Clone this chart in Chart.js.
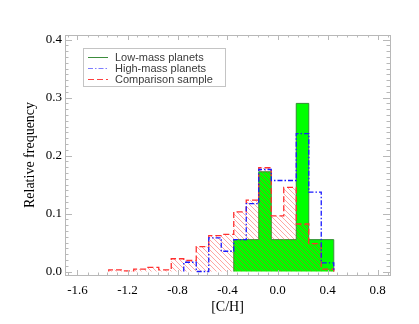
<!DOCTYPE html>
<html>
<head>
<meta charset="utf-8">
<script src="https://cdn.jsdelivr.net/npm/chart.js@4.4.1/dist/chart.umd.min.js"></script>
<style>
  html,body{margin:0;padding:0;background:#fff}
  #wrap{width:419px;height:324px}
</style>
</head>
<body>
<div id="wrap"><canvas id="c" width="419" height="324"></canvas></div>
<script>
// histogram bins ([C/H], width 0.1)
const binCenters = [-1.4,-1.3,-1.2,-1.1,-1.0,-0.9,-0.8,-0.7,-0.6,-0.5,-0.4,-0.3,-0.2,-0.1,0.0,0.1,0.2,0.3,0.4];
const binWidth = 0.1;
const lowMass    = [0,0,0,0,0,0,0,0,0,0,0,0.055,0.055,0.172,0.055,0.055,0.290,0.055,0.055];
const highMass   = [0,0,0,0,0,0,0,0.016,0,0.058,0.035,0.055,0.117,0.176,0.157,0.157,0.238,0.137,0.015];
const comparison = [0,0.003,0.001,0.004,0.007,0.003,0.022,0.019,0.043,0.062,0.064,0.103,0.123,0.179,0.096,0.145,0.082,0.048,0.004];
const seriesNames = ['Low-mass planets','High-mass planets','Comparison sample'];
const xTicks = [-1.6,-1.2,-0.8,-0.4,0.0,0.4,0.8];
const yTicks = [0.0,0.1,0.2,0.3,0.4];

const SERIF = "'Liberation Serif', 'DejaVu Serif', serif";
const SANS = "'Liberation Sans', Arial, sans-serif";
const FRAME = '#b8b8b8';

// step outline from first to last non-empty bin
function steps(vals){
  let a = vals.findIndex(v=>v>0), b = vals.length-1;
  while(b>a && vals[b]<=0) b--;
  const pts = [{x:binCenters[a]-binWidth/2, y:0}];
  for(let i=a;i<=b;i++) pts.push({x:binCenters[i]-binWidth/2, y:vals[i]});
  const r = binCenters[b]+binWidth/2;
  pts.push({x:r, y:vals[b]}, {x:r, y:0});
  return pts;
}

function hatch(){
  const s = 5, cv = document.createElement('canvas');
  cv.width = s; cv.height = s;
  const g = cv.getContext('2d');
  g.strokeStyle = 'rgba(255,40,40,0.42)';
  g.lineWidth = 1;
  g.beginPath();
  g.moveTo(-1,-1); g.lineTo(s+1,s+1);
  g.moveTo(-1,s-1); g.lineTo(1,s+1);
  g.moveTo(s-1,-1); g.lineTo(s+1,1);
  g.stroke();
  return g.createPattern(cv,'repeat');
}

// box + inward ticks on all four sides
const framePlugin = {
  id:'frame',
  afterDatasetsDraw(chart){
    const {ctx, chartArea:a, scales:{x,y}} = chart;
    ctx.save();
    ctx.strokeStyle = FRAME; ctx.lineWidth = 1;
    ctx.strokeRect(a.left+0.5, a.top+0.5, a.width, a.height);
    ctx.beginPath();
    const yt = (v,len)=>{ const p=Math.round(y.getPixelForValue(v))+0.5;
      ctx.moveTo(a.left,p); ctx.lineTo(a.left+len,p); ctx.moveTo(a.right,p); ctx.lineTo(a.right-len,p); };
    const xt = (v,len)=>{ const p=Math.round(x.getPixelForValue(v))+0.5;
      ctx.moveTo(p,a.bottom); ctx.lineTo(p,a.bottom-len); ctx.moveTo(p,a.top); ctx.lineTo(p,a.top+len); };
    for(let k=0;k<=40;k++) yt(k/100, k%10===0 ? 7 : 3.5);
    for(let k=-21;k<=11;k++) xt(k*0.08, k%5===0 ? 5 : 2.5);
    ctx.stroke();
    ctx.restore();
  }
};

// legend box in upper left of plot
const legendPlugin = {
  id:'boxLegend',
  afterDraw(chart){
    const {ctx, chartArea:a} = chart;
    const L = a.left+18, T = a.top+13;
    ctx.save();
    ctx.strokeStyle = '#c4c4c4'; ctx.lineWidth = 1;
    ctx.strokeRect(L+0.5, T+0.5, 142, 38);
    ctx.font = '11px '+SANS; ctx.fillStyle = '#3a3a3a'; ctx.textBaseline = 'middle';
    chart.data.datasets.forEach((ds,i)=>{
      const yy = Math.round(T+9+i*11)+0.5;
      ctx.strokeStyle = ds.legendColor; ctx.lineWidth = 1;
      ctx.setLineDash(ds.borderDash||[]);
      ctx.beginPath(); ctx.moveTo(L+5,yy); ctx.lineTo(L+25,yy); ctx.stroke();
      ctx.setLineDash([]);
      ctx.fillText(ds.label, L+32, yy);
    });
    ctx.restore();
  }
};

new Chart(document.getElementById('c'),{
  type:'line',
  data:{datasets:[
    {label:seriesNames[0], data:steps(lowMass), order:3, stepped:'before',
     borderColor:'#2f8f2f', legendColor:'#3c8c3c', borderWidth:1, fill:'origin', backgroundColor:'#00ff00'},
    {label:seriesNames[1], data:steps(highMass), order:1, stepped:'before',
     borderColor:'#1a1aff', legendColor:'#7d7dff', borderWidth:1.3, borderDash:[5,2,1.5,2], fill:false},
    {label:seriesNames[2], data:steps(comparison), order:2, stepped:'before',
     borderColor:'#ff3030', legendColor:'#ff4040', borderWidth:1.3, borderDash:[6,3], fill:'origin', backgroundColor:hatch()}
  ]},
  options:{
    responsive:false, animation:false,
    parsing:false, normalized:true,
    elements:{point:{radius:0}, line:{tension:0}},
    layout:{padding:{left:0,right:29,top:35,bottom:0}},
    plugins:{legend:{display:false}, tooltip:{enabled:false}},
    scales:{
      x:{type:'linear', min:-1.7, max:0.9,
        afterBuildTicks:s=>{ s.ticks = xTicks.map(v=>({value:v})); },
        afterFit:s=>{ s.height = 49; },
        grid:{display:false, drawTicks:false}, border:{display:false},
        ticks:{color:'#000', font:{family:SERIF,size:13}, padding:8, maxRotation:0, autoSkip:false,
               callback:v=>v.toFixed(1)},
        title:{display:true, text:'[C/H]', color:'#000', font:{family:SERIF,size:14}, padding:{top:0,bottom:8}}},
      y:{type:'linear', min:-0.006, max:0.408,
        afterBuildTicks:s=>{ s.ticks = yTicks.map(v=>({value:v})); },
        afterFit:s=>{ s.width = 65; },
        grid:{display:false, drawTicks:false}, border:{display:false},
        ticks:{color:'#000', font:{family:SERIF,size:13}, padding:3, callback:v=>v.toFixed(1)},
        title:{display:true, text:'Relative frequency', color:'#000', font:{family:SERIF,size:14}, padding:{top:22,bottom:0}}}
    }
  },
  plugins:[framePlugin, legendPlugin]
});
</script>
</body>
</html>
